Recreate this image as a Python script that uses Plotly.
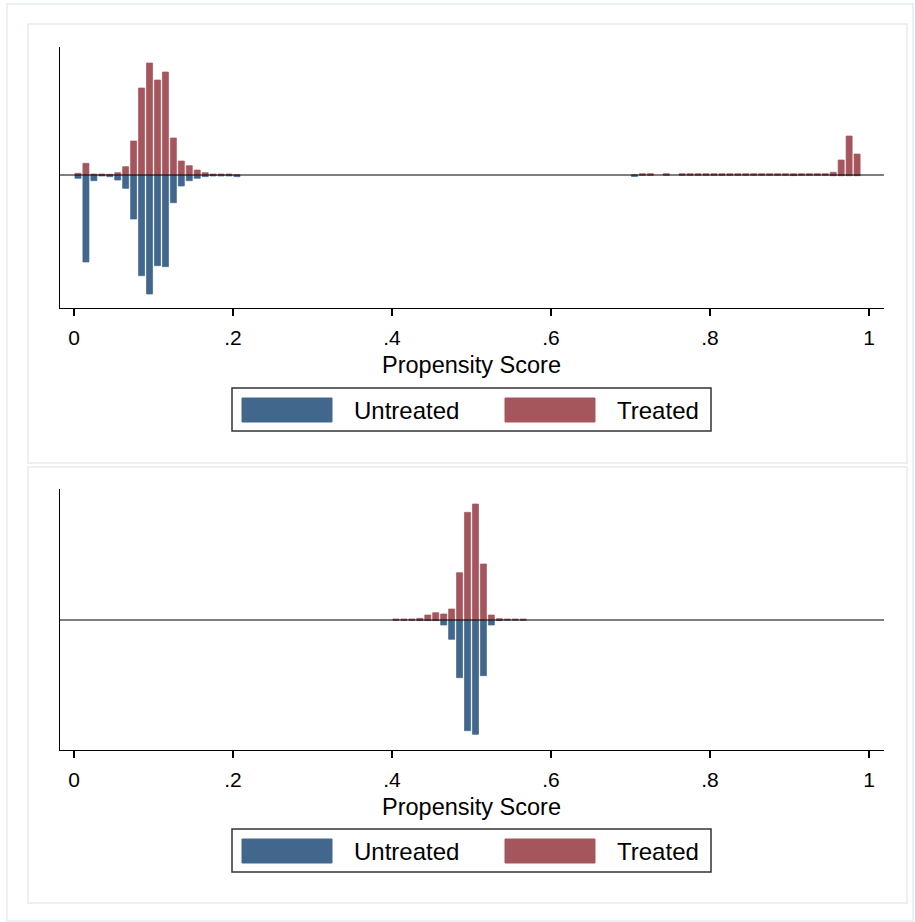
import plotly.graph_objects as go

W, H = 915, 922

# ---------------- data (bar heights, arbitrary density units) ----------------
# Top panel: before matching
top_bins = [0.005, 0.015, 0.025, 0.035, 0.045, 0.055, 0.065, 0.075, 0.085, 0.095,
            0.105, 0.115, 0.125, 0.135, 0.145, 0.155, 0.165, 0.175, 0.185, 0.195,
            0.205,
            0.705, 0.715, 0.725, 0.745,
            0.765, 0.775, 0.785, 0.795, 0.805, 0.815, 0.825, 0.835, 0.845, 0.855,
            0.865, 0.875, 0.885, 0.895, 0.905, 0.915, 0.925, 0.935, 0.945,
            0.955, 0.965, 0.975, 0.985]
top_treated = [1.7, 11.7, 1.0, 1.0, 0.7, 2.3, 8.3, 34, 87, 112,
               95, 103, 37, 14, 9.3, 5, 2.3, 1.0, 1.0, 1.0,
               0.0,
               0.0, 1.3, 1.3, 1.3,
               1.3, 1.3, 1.3, 1.3, 1.3, 1.3, 1.3, 1.3, 1.3, 1.3,
               1.3, 1.3, 1.3, 1.3, 1.3, 1.3, 1.3, 1.3, 1.3,
               2.7, 15, 39, 21]
top_untreated = [3.3, 87, 5.7, 1.0, 1.7, 5, 13.3, 44, 100.7, 119,
                 90.7, 91.7, 27.7, 11, 5.7, 3.3, 1.7, 1.0, 1.0, 1.0,
                 1.7,
                 1.5, 0.0, 0.0, 0.0,
                 0.0, 0.0, 0.0, 0.0, 0.0, 0.0, 0.0, 0.0, 0.0, 0.0,
                 0.0, 0.0, 0.0, 0.0, 0.6, 0.0, 0.0, 0.0, 0.0,
                 0.7, 0.7, 0.7, 0.7]

# Bottom panel: after matching
bot_bins = [0.405, 0.415, 0.425, 0.435, 0.445, 0.455, 0.465, 0.475, 0.485,
            0.495, 0.505, 0.515, 0.525, 0.535, 0.545, 0.555, 0.565]
bot_treated = [1.0, 1.0, 1.0, 1.7, 5, 7.3, 6, 11, 47.3,
               107.7, 116, 56, 5, 1.3, 1.0, 1.0, 1.0]
bot_untreated = [0.0, 0.0, 0.0, 0.6, 0.6, 0.6, 5, 19.3, 57.7,
                 110.7, 114.3, 55.7, 5, 0.6, 0.0, 0.0, 0.0]

tick_vals = [0, 0.2, 0.4, 0.6, 0.8, 1.0]
tick_text = ["0", ".2", ".4", ".6", ".8", "1"]
series_names = ["Untreated", "Treated"]
x_title = "Propensity Score"

BLUE = "#42678c"
RED = "#a5565d"
FONT = "Arial, Liberation Sans, sans-serif"

# ---------------- geometry helpers ----------------
def px(x):
    return x / W

def py(y):
    return 1 - y / H

X0, X1 = 60, 884          # plot area left/right pixels
ZERO_PX, ONE_PX = 74, 869  # pixel positions of 0 and 1
scale = ONE_PX - ZERO_PX
xr = [(X0 - ZERO_PX) / scale, (X1 - ZERO_PX) / scale]

fig = go.Figure()

neg = lambda v: [-a for a in v]
bw = 0.0076
def bar(x, y, col, xa, ya):
    return go.Bar(x=x, y=y, width=bw, marker=dict(color=col, line=dict(color=col, width=0.7)),
                  xaxis=xa, yaxis=ya, showlegend=False, hoverinfo="skip")

fig.add_trace(bar(top_bins, neg(top_untreated), BLUE, "x", "y"))
fig.add_trace(bar(top_bins, top_treated, RED, "x", "y"))
fig.add_trace(bar(bot_bins, neg(bot_untreated), BLUE, "x2", "y2"))
fig.add_trace(bar(bot_bins, bot_treated, RED, "x2", "y2"))

axis_common = dict(showgrid=False, zeroline=False, showline=True, linecolor="#000", linewidth=1.3)
xcommon = dict(axis_common, range=xr, tickvals=tick_vals, ticktext=tick_text, ticks="outside",
               ticklen=7, tickwidth=1.2, tickcolor="#000", ticklabelstandoff=3,
               tickfont=dict(family=FONT, size=21, color="#000"))

fig.update_layout(
    width=W, height=H, margin=dict(l=0, r=0, t=0, b=0),
    paper_bgcolor="white", plot_bgcolor="white", barmode="overlay", bargap=0,
    xaxis=dict(xcommon, domain=[px(X0), px(X1)], anchor="y"),
    yaxis=dict(axis_common, domain=[py(308), py(47)], range=[-133, 128], showticklabels=False, ticks="", anchor="x"),
    xaxis2=dict(xcommon, domain=[px(X0), px(X1)], anchor="y2"),
    yaxis2=dict(axis_common, domain=[py(750), py(489)], range=[-130, 131], showticklabels=False, ticks="", anchor="x2"),
)

shapes = []
annotations = []
# outer frame and panel frames
FRAME = "#e4ecef"
shapes.append(dict(type="rect", xref="paper", yref="paper", x0=px(7), x1=px(913), y0=py(921), y1=py(4),
                   line=dict(color=FRAME, width=1.5), layer="below"))
for (t, b) in [(24, 463), (467, 903)]:
    shapes.append(dict(type="rect", xref="paper", yref="paper", x0=px(28), x1=px(907), y0=py(b), y1=py(t),
                       line=dict(color=FRAME, width=1.5), layer="below"))

# zero reference lines
for xa, ya in [("x", "y"), ("x2", "y2")]:
    shapes.append(dict(type="line", xref=f"{xa} domain", yref=ya, x0=0, x1=1, y0=0, y1=0,
                       line=dict(color="#000", width=1.2), layer="above"))

# axis titles
for yc in [365, 807]:
    annotations.append(dict(text=x_title, xref="paper", yref="paper", x=px(471), y=py(yc),
                            showarrow=False, xanchor="center", yanchor="middle",
                            font=dict(family=FONT, size=23.5, color="#000")))

# legends (manual)
for top in [388, 829]:
    shapes.append(dict(type="rect", xref="paper", yref="paper", x0=px(232), x1=px(711),
                       y0=py(top + 43), y1=py(top), line=dict(color="#333", width=1.5), fillcolor="white"))
    for (sx, tx, col, name) in [(242, 352, BLUE, series_names[0]), (505, 615, RED, series_names[1])]:
        shapes.append(dict(type="rect", xref="paper", yref="paper", x0=px(sx), x1=px(sx + 90),
                           y0=py(top + 34), y1=py(top + 10), line=dict(color=col, width=1), fillcolor=col))
        annotations.append(dict(text=name, xref="paper", yref="paper", x=px(tx), y=py(top + 22),
                                showarrow=False, xanchor="left", yanchor="middle",
                                font=dict(family=FONT, size=24, color="#000")))

fig.update_layout(shapes=shapes, annotations=annotations)
fig.write_html("out.html", config={"displayModeBar": False, "staticPlot": True},
               post_script="document.body.style.margin='0px';document.body.style.padding='0px';")
